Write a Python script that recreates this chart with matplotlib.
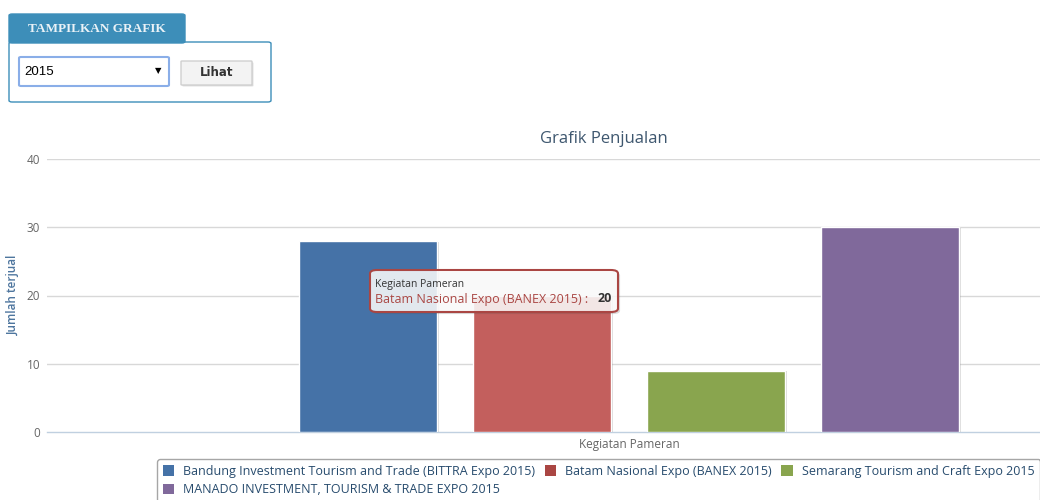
import matplotlib
matplotlib.use('Agg')
import matplotlib.pyplot as plt
from matplotlib.patches import FancyBboxPatch, Patch
import matplotlib.patheffects as pe

W, H = 1040, 500

# data
kegiatan = ['Bandung Investment Tourism and Trade (BITTRA Expo 2015)',
            'Batam Nasional Expo (BANEX 2015)',
            'Semarang Tourism and Craft Expo 2015',
            'MANADO INVESTMENT, TOURISM & TRADE EXPO 2015']
jumlah = [28, 20, 9, 30]
warna = ['#4572A7', '#AA4643', '#89A54E', '#80699B']
warna_bar = ['#4572A7', '#C35F5D', '#89A54E', '#80699B']  # batam sedang di-hover
y_ticks = [0, 10, 20, 30, 40]
kategori = 'Kegiatan Pameran'


def fx(x):
    return x / W


def fy(y):
    return 1 - y / H


plt.rcParams['font.family'] = ['Open Sans', 'DejaVu Sans']
fig = plt.figure(figsize=(W / 100, H / 100), dpi=100)

# area plot (sebagian terpotong di kanan, seperti di halaman)
left, right, top, bottom = 47, 1211, 159, 432
ax = fig.add_axes([fx(left), fy(bottom), (right - left) / W, (bottom - top) / H])
ax.set_xlim(-0.5, 0.5)
ax.set_ylim(0, 40)

lebar = 0.1186
jarak = 0.1495
n = len(jumlah)
for i, (nama, nilai) in enumerate(zip(kegiatan, jumlah)):
    pos = (i - (n - 1) / 2) * jarak
    ax.bar(pos, nilai, width=lebar, color=warna_bar[i], edgecolor='white',
           linewidth=1, zorder=3,
           path_effects=[pe.SimplePatchShadow(offset=(1.5, -0.5), shadow_rgbFace='#000000', alpha=0.15),
                         pe.Normal()])

ax.set_yticks(y_ticks)
ax.set_yticklabels([str(t) for t in y_ticks], color='#666666', fontsize=8.5)
ax.set_xticks([0])
ax.set_xticklabels([kategori], color='#666666', fontsize=8.5)
ax.tick_params(axis='y', length=0, pad=5)
ax.tick_params(axis='x', length=0, pad=4)
for t in y_ticks[1:]:
    ax.axhline(t, color='#D8D8D8', linewidth=1, zorder=1)
for s in ['top', 'right', 'left']:
    ax.spines[s].set_visible(False)
ax.spines['bottom'].set_color('#C0D0E0')
ax.spines['bottom'].set_linewidth(1)

fig.text(fx(13), fy(295), 'Jumlah terjual', rotation=90, ha='center', va='center',
         color='#4D759E', fontsize=8.5, fontweight='semibold')
fig.text(fx(604), fy(139), 'Grafik Penjualan', ha='center', va='center',
         color='#3E576F', fontsize=12)

# legenda
handles = [Patch(facecolor=c, edgecolor='none') for c in warna]
urutan = [0, 3, 1, 2]
leg = fig.legend([handles[i] for i in urutan], [kegiatan[i] for i in urutan],
                 ncol=3, loc='upper left', bbox_to_anchor=(fx(157), fy(459)),
                 fontsize=9, frameon=True, fancybox=True, handlelength=0.9,
                 handleheight=0.9, handletextpad=0.75, columnspacing=0.75,
                 labelspacing=0.45, borderpad=0.45, borderaxespad=0)
leg.get_frame().set_edgecolor('#909090')
leg.get_frame().set_linewidth(1)
for t in leg.get_texts():
    t.set_color('#274B6D')

# tooltip
fig.patches.append(FancyBboxPatch((fx(370), fy(312)), fx(618) - fx(370), fy(270) - fy(312),
                                  boxstyle='round,pad=0,rounding_size=0.007',
                                  transform=fig.transFigure, facecolor='white', alpha=0.85,
                                  edgecolor='none', zorder=5,
                                  path_effects=[pe.SimplePatchShadow(offset=(1.5, -1.5), alpha=0.2), pe.Normal()]))
fig.patches.append(FancyBboxPatch((fx(370), fy(312)), fx(618) - fx(370), fy(270) - fy(312),
                                  boxstyle='round,pad=0,rounding_size=0.007',
                                  transform=fig.transFigure, facecolor='none',
                                  edgecolor='#AA4643', linewidth=1.5, zorder=6))
fig.text(fx(375), fy(285), kategori, ha='left', va='center', fontsize=7.5, color='#333333', zorder=7)
fig.text(fx(375), fy(299), 'Batam Nasional Expo (BANEX 2015) :', ha='left', va='center',
         fontsize=9, color='#AA4643', zorder=7)
fig.text(fx(612), fy(299), str(jumlah[1]), ha='right', va='center', fontsize=9,
         fontweight='bold', color='#333333', zorder=7)

# form "Tampilkan Grafik"
biru = '#3D8EB9'
fig.patches.append(FancyBboxPatch((fx(9), fy(102)), fx(271) - fx(9), fy(42) - fy(102),
                                  boxstyle='round,pad=0,rounding_size=0.003',
                                  transform=fig.transFigure, facecolor='white',
                                  edgecolor=biru, linewidth=1))
fig.patches.append(FancyBboxPatch((fx(9), fy(43)), fx(185) - fx(9), fy(14) - fy(43),
                                  boxstyle='round,pad=0,rounding_size=0.003',
                                  transform=fig.transFigure, facecolor=biru,
                                  edgecolor=biru, linewidth=1))
fig.text(fx(97), fy(28.5), 'TAMPILKAN GRAFIK', ha='center', va='center',
         family='Liberation Serif', fontweight='bold', fontsize=9.5, color='#EAF2F7')
fig.patches.append(FancyBboxPatch((fx(19), fy(86)), fx(169) - fx(19), fy(57) - fy(86),
                                  boxstyle='round,pad=0,rounding_size=0.002',
                                  transform=fig.transFigure, facecolor='white',
                                  edgecolor='#8AAEE8', linewidth=1.5))
fig.text(fx(24), fy(72), '2015', ha='left', va='center', family='Liberation Sans',
         fontsize=9.5, color='#000000')
fig.text(fx(158), fy(71), '▼', ha='center', va='center', family='DejaVu Sans',
         fontsize=6, color='#000000')
fig.patches.append(FancyBboxPatch((fx(181), fy(85)), fx(252) - fx(181), fy(61) - fy(85),
                                  boxstyle='round,pad=0,rounding_size=0.001',
                                  transform=fig.transFigure, facecolor='#F3F3F3',
                                  edgecolor='#D0D0D0', linewidth=1,
                                  path_effects=[pe.SimplePatchShadow(offset=(1, -1), alpha=0.2), pe.Normal()]))
fig.text(fx(216.5), fy(73), 'Lihat', ha='center', va='center', family='DejaVu Sans',
         fontweight='bold', fontsize=8.5, color='#333333')

fig.savefig('out.png', dpi=100)
